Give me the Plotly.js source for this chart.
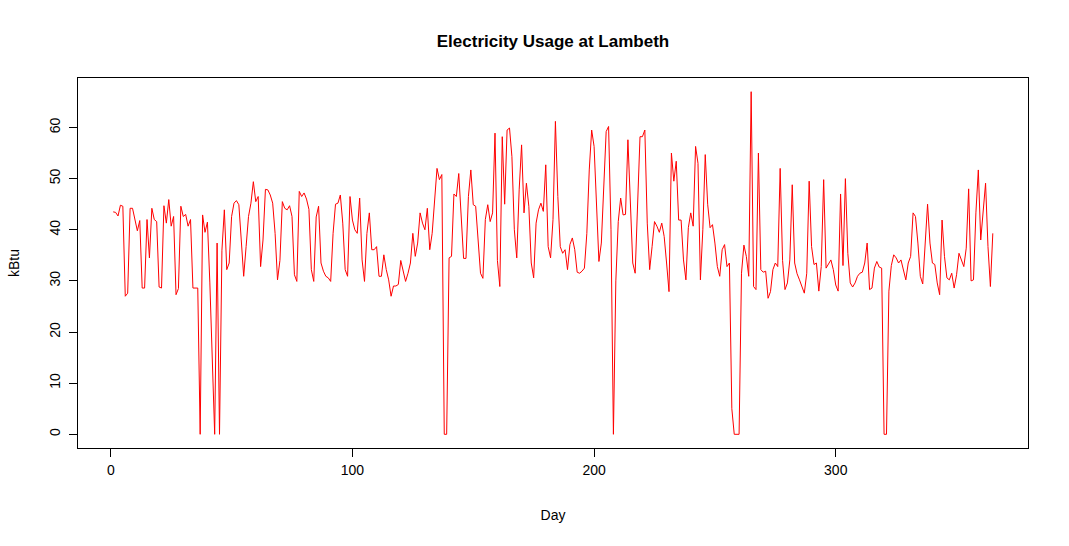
<!DOCTYPE html>
<html>
<head>
<meta charset="utf-8">
<script src="https://cdn.plot.ly/plotly-3.0.1.min.js"></script>
<style>
  html, body { margin: 0; padding: 0; background: #fff; }
  #chart { width: 1069px; height: 546px; }
</style>
</head>
<body>
<div id="chart"></div>
<script>
// Daily electricity usage (kBtu), days 1..365
const usage = [
  43.5, 43.4, 42.7, 44.8, 44.6, 27.0, 27.6, 44.2, 44.2, 42.0,
  39.8, 41.8, 28.6, 28.6, 42.0, 34.5, 44.2, 42.0, 41.6, 28.8,
  28.6, 44.7, 41.3, 45.9, 40.7, 42.6, 27.3, 28.5, 44.6, 42.6,
  43.0, 40.7, 42.0, 28.6, 28.6, 28.6, 0.0, 42.9, 39.5, 41.5,
  29.6, 16.0, 0.0, 37.4, 0.0, 36.0, 43.9, 32.2, 33.5, 42.6,
  45.2, 45.7, 44.9, 38.0, 30.9, 36.7, 42.6, 45.2, 49.4, 45.5,
  46.5, 32.8, 38.0, 47.9, 47.8, 46.8, 45.2, 39.3, 30.2, 34.0,
  45.5, 44.2, 43.9, 44.7, 42.6, 31.2, 29.9, 47.5, 46.5, 47.2,
  46.0, 44.0, 32.2, 29.9, 42.5, 44.6, 33.5, 31.9, 30.9, 30.6,
  29.9, 39.3, 45.0, 45.2, 46.8, 41.3, 32.2, 30.9, 46.5, 41.9,
  40.0, 39.3, 46.2, 34.1, 29.9, 39.3, 43.3, 36.1, 36.1, 36.7,
  30.9, 30.9, 35.1, 32.2, 30.2, 27.0, 29.0, 29.0, 29.3, 34.0,
  32.2, 29.9, 31.5, 33.5, 39.3, 34.8, 37.4, 43.3, 41.3, 40.0,
  44.2, 36.1, 39.3, 44.9, 52.0, 49.8, 50.8, 0.0, 0.0, 34.5,
  34.8, 47.0, 46.5, 51.0, 43.3, 34.4, 34.4, 46.5, 51.7, 44.9,
  44.6, 38.0, 31.5, 30.5, 42.0, 44.9, 41.6, 43.3, 58.9, 34.0,
  28.9, 58.2, 45.0, 59.5, 59.9, 54.3, 40.0, 34.5, 47.8, 56.6,
  43.3, 49.1, 44.6, 33.5, 30.6, 41.3, 43.9, 45.2, 43.6, 52.7,
  36.7, 34.5, 42.0, 61.2, 46.5, 36.7, 35.4, 36.1, 32.2, 37.1,
  38.4, 36.1, 31.7, 31.5, 31.9, 32.5, 39.3, 51.7, 59.5, 56.3,
  45.2, 33.8, 37.4, 48.0, 59.2, 60.2, 40.0, 0.0, 30.0, 41.6,
  46.2, 42.9, 43.0, 57.6, 43.9, 33.5, 31.5, 43.3, 58.2, 58.2,
  59.5, 41.3, 32.2, 36.7, 41.6, 40.7, 39.5, 41.3, 38.7, 33.5,
  27.9, 55.0, 49.5, 53.4, 41.9, 41.9, 34.1, 30.2, 40.4, 43.3,
  40.7, 56.3, 53.0, 30.2, 40.0, 54.7, 45.0, 40.4, 41.0, 37.4,
  32.8, 30.9, 36.1, 37.1, 32.8, 33.5, 5.0, 0.0, 0.0, 0.0,
  31.5, 37.0, 34.8, 30.9, 67.0, 28.9, 28.3, 55.0, 32.2, 31.7,
  31.9, 26.6, 27.9, 32.2, 33.5, 32.8, 52.0, 34.0, 28.3, 29.6,
  34.1, 48.8, 33.5, 31.4, 30.2, 28.9, 27.6, 31.5, 49.5, 36.7,
  33.2, 33.5, 28.0, 32.8, 49.8, 32.5, 33.2, 34.1, 32.2, 29.2,
  28.0, 47.0, 33.0, 50.0, 35.4, 29.6, 28.8, 29.6, 30.9, 31.5,
  31.7, 33.5, 37.4, 28.3, 28.6, 32.5, 33.8, 32.7, 32.5, 0.0,
  0.0, 28.0, 33.0, 35.1, 34.5, 33.5, 34.1, 32.2, 30.2, 33.5,
  34.8, 43.3, 42.6, 37.4, 30.9, 29.4, 36.7, 45.0, 37.4, 33.5,
  33.2, 29.6, 27.3, 41.9, 34.8, 30.6, 30.2, 31.5, 28.6, 31.2,
  35.4, 34.1, 32.8, 36.4, 48.0, 30.0, 30.2, 43.3, 51.7, 38.0,
  44.0, 49.1, 36.7, 28.9, 39.3
];
const days = usage.map((_, i) => i + 1);

const xTicks = [0, 100, 200, 300];
const yTicks = [0, 10, 20, 30, 40, 50, 60];

const titleText = "Electricity Usage at Lambeth";
const xLabel = "Day";
const yLabel = "kBtu";

// R-style 4% range extension
const xmin = Math.min(...days), xmax = Math.max(...days);
const ymin = Math.min(...usage), ymax = Math.max(...usage);
const xr = [xmin - 0.04 * (xmax - xmin), xmax + 0.04 * (xmax - xmin)];
const yr = [ymin - 0.04 * (ymax - ymin), ymax + 0.04 * (ymax - ymin)];

const font = "'Liberation Sans', Arial, sans-serif";

const trace = {
  x: days, y: usage, type: "scatter", mode: "lines",
  line: { color: "#ff0000", width: 1 },
  hoverinfo: "x+y"
};

const axisCommon = {
  showgrid: false, zeroline: false,
  showline: true, linecolor: "#000", linewidth: 1, mirror: true,
  ticks: "outside", ticklen: 8, tickwidth: 1, tickcolor: "#000",
  tickfont: { family: font, size: 14, color: "#000" }
};

const layout = {
  width: 1069, height: 546,
  margin: { l: 78, r: 41, t: 78, b: 98 },
  paper_bgcolor: "#fff", plot_bgcolor: "#fff",
  showlegend: false,
  title: {
    text: "<b>" + titleText + "</b>",
    font: { family: font, size: 17, color: "#000" },
    x: 0.5, xref: "paper", xanchor: "center",
    y: 1 - 41 / 546, yref: "container", yanchor: "middle"
  },
  xaxis: Object.assign({}, axisCommon, {
    range: xr, tickvals: xTicks, ticktext: xTicks.map(String),
    ticklabelstandoff: 1,
    title: { text: xLabel, font: { family: font, size: 14, color: "#000" }, standoff: 33 }
  }),
  yaxis: Object.assign({}, axisCommon, {
    range: yr, tickvals: yTicks, ticktext: yTicks.map(String),
    tickangle: -90, ticklabelstandoff: 3,
    title: { text: yLabel, font: { family: font, size: 14, color: "#000" }, standoff: 24 }
  })
};

Plotly.newPlot("chart", [trace], layout, { staticPlot: true, displayModeBar: false });
</script>
</body>
</html>
